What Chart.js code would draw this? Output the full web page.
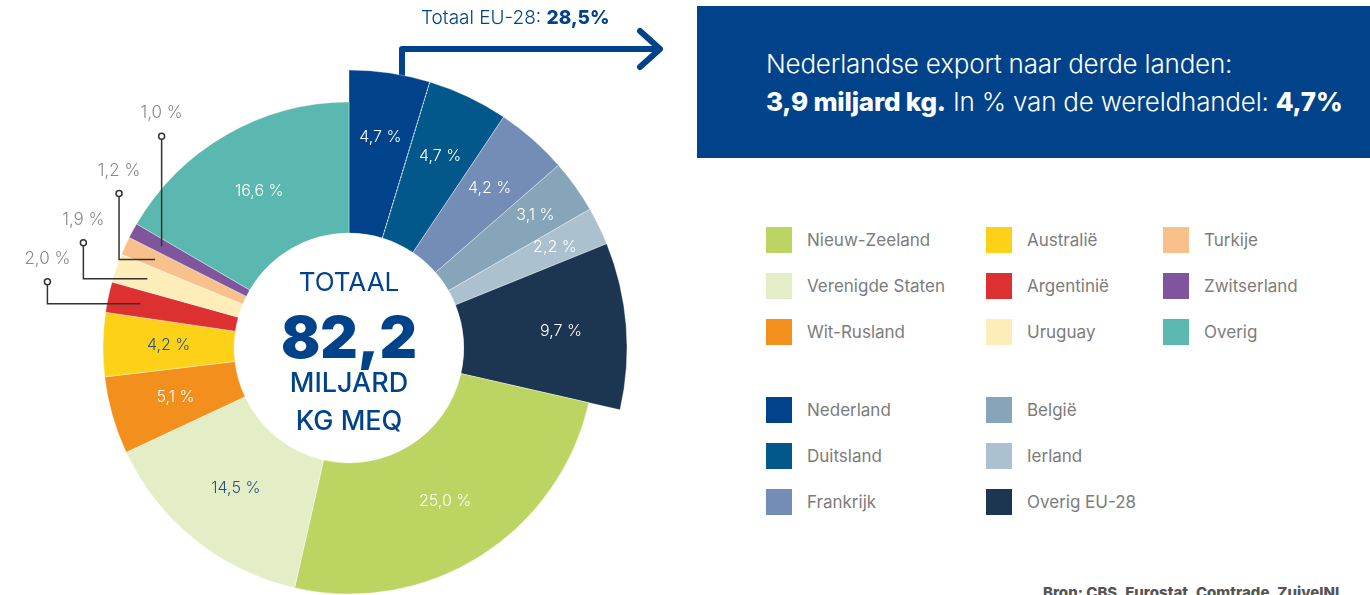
<!DOCTYPE html>
<html>
<head>
<meta charset="utf-8">
<script src="https://cdn.jsdelivr.net/npm/chart.js@4.4.1/dist/chart.umd.min.js"></script>
<style>
  body { margin: 0; width: 1370px; height: 595px; overflow: hidden; background: #fff; position: relative; font-family: Inter, Lato, "Noto Sans", sans-serif; }
  #arrow { position: absolute; left: 0; top: 0; }
  #chartBox { position: absolute; left: 0; top: 0; width: 698px; height: 595px; }
  #euTitle { position: absolute; left: 421px; top: 6px; font-size: 19px; color: #00438a; font-weight: 300; white-space: nowrap; }
  #euTitle b { font-weight: 800; }
  #infoBox { position: absolute; left: 697px; top: 6px; width: 673px; height: 152px; background: #00438a; color: #fff; }
  #infoBox div { position: absolute; left: 69px; font-size: 26px; font-weight: 300; white-space: nowrap; letter-spacing: -0.2px; }
  #infoBox b { font-weight: 800; }
  .legend { position: absolute; left: 766px; display: grid; grid-template-columns: 220px 177px 200px; grid-template-rows: repeat(3, 46px); grid-auto-flow: column; }
  .legend .item { display: flex; align-items: center; font-size: 17px; color: #7c7c7c; white-space: nowrap; }
  .legend .sw { width: 26px; height: 26px; margin-right: 15px; flex: none; }
  #source { position: absolute; left: 1043px; top: 583px; font-size: 15px; font-weight: 800; color: #555; white-space: nowrap; }
</style>
</head>
<body>
<svg id="arrow" width="698" height="120">
  <path d="M402 80 V49 H659" fill="none" stroke="#00438a" stroke-width="6" stroke-linejoin="round"/>
  <path d="M640 31 L660 49 L640 67" fill="none" stroke="#00438a" stroke-width="6" stroke-linecap="round" stroke-linejoin="round"/>
</svg>
<div id="chartBox"><canvas id="donut"></canvas></div>
<div id="euTitle"></div>
<div id="infoBox">
  <div style="top:42px">Nederlandse export naar derde landen:</div>
  <div style="top:80px"><b>3,9 miljard kg.</b> In % van de wereldhandel: <b>4,7%</b></div>
</div>
<div class="legend" id="legendWorld" style="top:217px"></div>
<div class="legend" id="legendEU" style="top:387px"></div>
<div id="source">Bron: CBS, Eurostat, Comtrade, ZuivelNL</div>

<script>
// slices, clockwise from 12 o'clock
const countries = ['Nederland', 'Duitsland', 'Frankrijk', 'België', 'Ierland', 'Overig EU-28',
  'Nieuw-Zeeland', 'Verenigde Staten', 'Wit-Rusland', 'Australië', 'Argentinië', 'Uruguay',
  'Turkije', 'Zwitserland', 'Overig'];
const shares = [4.7, 4.7, 4.2, 3.1, 2.2, 9.7, 25.0, 14.5, 5.1, 4.2, 2.0, 1.9, 1.2, 1.0, 16.6];
const colors = ['#00438a', '#02588b', '#738db6', '#87a5b9', '#abc1cf', '#1c3550',
  '#bcd462', '#e4eec6', '#f3901d', '#fed119', '#dd3030', '#fcedb9',
  '#f8c08b', '#7f559d', '#5bb8b0'];
const euCountries = ['Nederland', 'Duitsland', 'Frankrijk', 'België', 'Ierland', 'Overig EU-28'];
const calloutCountries = ['Argentinië', 'Uruguay', 'Turkije', 'Zwitserland'];
const darkTextCountries = ['Verenigde Staten', 'Australië'];
const euTotal = '28,5%';
const centerLines = ['TOTAAL', '82,2', 'MILJARD', 'KG MEQ'];

// layout for the leader lines of the small slices (offset of the label dot from the slice point)
const calloutOffsets = { 'Argentinië': [-93, -22], 'Uruguay': [-64, -36], 'Turkije': [-36, -66], 'Zwitserland': [0, -110] };

const fmt = v => v.toFixed(1).replace('.', ',') + ' %';

document.getElementById('euTitle').innerHTML = 'Totaal EU-28: <b>' + euTotal + '</b>';

function buildLegend(el, names) {
  names.forEach(name => {
    const i = countries.indexOf(name);
    const item = document.createElement('div');
    item.className = 'item';
    item.innerHTML = '<span class="sw" style="background:' + colors[i] + '"></span>' + name;
    el.appendChild(item);
  });
}
buildLegend(document.getElementById('legendWorld'), countries.filter(c => !euCountries.includes(c)));
buildLegend(document.getElementById('legendEU'), euCountries);

const EU_EXTRA = 32;

const donutExtras = {
  id: 'donutExtras',
  beforeDatasetsDraw(chart) {
    // EU slices stick out further than the rest
    const meta = chart.getDatasetMeta(0);
    const base = meta.controller.outerRadius;
    meta.data.forEach((arc, i) => {
      arc.outerRadius = euCountries.includes(countries[i]) ? base + EU_EXTRA : base;
    });
  },
  afterDatasetsDraw(chart) {
    const ctx = chart.ctx;
    const meta = chart.getDatasetMeta(0);
    const arcs = meta.data;
    const cx = arcs[0].x, cy = arcs[0].y;

    // dotted divider between Nederland and Duitsland
    const a0 = arcs[0];
    ctx.save();
    ctx.strokeStyle = 'rgba(255,255,255,0.8)';
    ctx.lineWidth = 1;
    ctx.setLineDash([1.5, 2]);
    ctx.beginPath();
    ctx.moveTo(cx + Math.cos(a0.endAngle) * a0.innerRadius, cy + Math.sin(a0.endAngle) * a0.innerRadius);
    ctx.lineTo(cx + Math.cos(a0.endAngle) * a0.outerRadius, cy + Math.sin(a0.endAngle) * a0.outerRadius);
    ctx.stroke();
    ctx.restore();

    // value labels inside slices
    ctx.save();
    ctx.font = '300 16px Inter, Lato, sans-serif';
    ctx.textAlign = 'center';
    ctx.textBaseline = 'middle';
    arcs.forEach((arc, i) => {
      const name = countries[i];
      if (calloutCountries.includes(name)) return;
      const mid = (arc.startAngle + arc.endAngle) / 2;
      let k = 0.5;
      if (euCountries.includes(name)) k = shares[i] < 4 ? 0.7 : 0.6;
      const r = arc.innerRadius + (arc.outerRadius - arc.innerRadius) * k;
      ctx.fillStyle = darkTextCountries.includes(name) ? '#2d4f7e' : '#ffffff';
      ctx.fillText(fmt(shares[i]), cx + Math.cos(mid) * r, cy + Math.sin(mid) * r);
    });
    ctx.restore();

    // leader lines for the thin slices
    ctx.save();
    ctx.font = '300 17px Inter, Lato, sans-serif';
    ctx.textAlign = 'center';
    ctx.textBaseline = 'middle';
    arcs.forEach((arc, i) => {
      const name = countries[i];
      if (!calloutCountries.includes(name)) return;
      const mid = (arc.startAngle + arc.endAngle) / 2;
      const r = arc.innerRadius + (arc.outerRadius - arc.innerRadius) * 0.75;
      const ex = cx + Math.cos(mid) * r, ey = cy + Math.sin(mid) * r;
      const [dx, dy] = calloutOffsets[name];
      const kx = ex + dx, ky = ey + dy;
      ctx.strokeStyle = '#333';
      ctx.lineWidth = 1.5;
      ctx.beginPath();
      ctx.moveTo(ex, ey);
      ctx.lineTo(kx, ey);
      ctx.lineTo(kx, ky + 3);
      ctx.stroke();
      ctx.beginPath();
      ctx.arc(kx, ky, 3, 0, Math.PI * 2);
      ctx.fillStyle = '#fff';
      ctx.fill();
      ctx.stroke();
      ctx.fillStyle = '#8a8a8a';
      ctx.fillText(fmt(shares[i]), kx, ky - 23);
    });
    ctx.restore();

    // centre text
    ctx.save();
    ctx.fillStyle = '#00438a';
    ctx.textAlign = 'center';
    ctx.textBaseline = 'middle';
    ctx.font = '400 26px Inter, Lato, sans-serif';
    ctx.fillText(centerLines[0], cx, cy - 65);
    ctx.font = '900 58px Inter, Lato, sans-serif';
    ctx.fillText(centerLines[1], cx, cy - 7);
    ctx.font = '500 27px Inter, Lato, sans-serif';
    ctx.fillText(centerLines[2], cx, cy + 36);
    ctx.fillText(centerLines[3], cx, cy + 74);
    ctx.restore();
  }
};

new Chart(document.getElementById('donut'), {
  type: 'doughnut',
  data: {
    labels: countries,
    datasets: [{
      data: shares,
      backgroundColor: colors,
      borderColor: 'rgba(255,255,255,0.35)',
      borderWidth: 1,
      clip: false
    }]
  },
  options: {
    responsive: true,
    maintainAspectRatio: false,
    animation: false,
    events: [],
    radius: 246,
    cutout: '46.7%',
    layout: { padding: { top: 101, bottom: 0, left: 0, right: 0 } },
    plugins: {
      legend: { display: false },
      tooltip: { enabled: false }
    }
  },
  plugins: [donutExtras]
});
</script>
</body>
</html>
